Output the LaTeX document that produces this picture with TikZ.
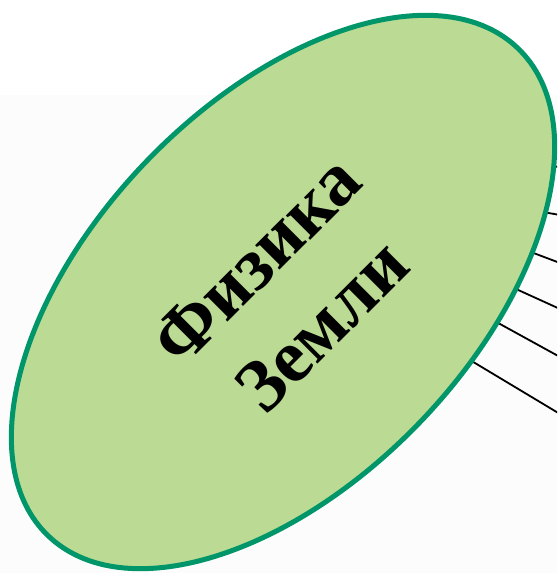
\documentclass[tikz,border=0pt]{standalone}
\usepackage{fontspec}
\setmainfont{Liberation Serif}
\usetikzlibrary{shapes.geometric}
\definecolor{ovalfill}{RGB}{187,218,147}
\definecolor{ovalline}{RGB}{0,150,106}
\definecolor{bgtint}{RGB}{252,252,252}
\tikzset{
  oval/.style={ellipse, draw=ovalline, line width=5pt, fill=ovalfill,
    minimum width=677pt, minimum height=378pt, inner sep=0pt},
  ray/.style={draw=black, line width=1.8pt},
  title/.style={font=\bfseries\fontsize{75}{93}\selectfont, align=center, text=black, inner sep=0pt}
}
\begin{document}
\begin{tikzpicture}[x=1pt,y=-1pt]
\useasboundingbox (0,0) rectangle (557,573);
\clip (0,0) rectangle (557,573);
\fill[bgtint] (0,95) rectangle (557,573);
% ray coordinates
\coordinate (a0) at (500,161); \coordinate (a1) at (560,167);
\coordinate (b0) at (480,201); \coordinate (b1) at (560,215);
\coordinate (c0) at (470,229); \coordinate (c1) at (560,263);
\coordinate (d0) at (450,259); \coordinate (d1) at (560,309);
\coordinate (e0) at (440,291); \coordinate (e1) at (560,357);
\coordinate (f0) at (420,330); \coordinate (f1) at (560,414);
\draw[ray] (a0) -- (a1);
\draw[ray] (b0) -- (b1);
\draw[ray] (c0) -- (c1);
\draw[ray] (d0) -- (d1);
\draw[ray] (e0) -- (e1);
\draw[ray] (f0) -- (f1);
\node[oval, rotate=46] (earth) at (283,292) {};
\node[title, rotate=45] (label) at (289,293) {Физика\\Земли};
\end{tikzpicture}
\end{document}
